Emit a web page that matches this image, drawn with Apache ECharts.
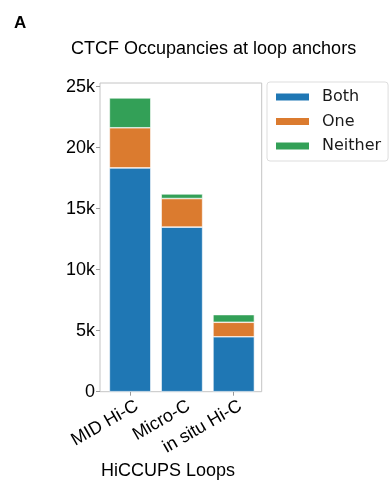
<!DOCTYPE html>
<html>
<head>
<meta charset="utf-8">
<script src="https://cdn.jsdelivr.net/npm/echarts@6/dist/echarts.min.js"></script>
<style>
  html, body { margin: 0; padding: 0; background: #fff; }
  #chart { width: 392px; height: 487px; }
</style>
</head>
<body>
<div id="chart"></div>
<script>
// Loop-anchor CTCF occupancy per loop caller dataset
const categories = ['MID Hi-C', 'Micro-C', 'in situ Hi-C'];
const bothValues = [18340, 13490, 4500];
const oneValues = [3290, 2340, 1190];
const neitherValues = [2450, 380, 630];
const yTickValues = [0, 5000, 10000, 15000, 20000, 25000];
const yTickLabels = ['0', '5k', '10k', '15k', '20k', '25k'];
const yMax = 25300;

const colors = { both: '#1f77b4', one: '#db7b2f', neither: '#33a057' };
const sansFont = 'Liberation Sans, Arial, Helvetica, sans-serif';

const plotTop = 83, plotHeight = 308.7;

const chart = echarts.init(document.getElementById('chart'), null, { renderer: 'canvas' });

function barSeries(name, values, color) {
  return {
    name: name,
    type: 'bar',
    stack: 'total',
    xAxisIndex: 1,
    yAxisIndex: 1,
    barWidth: '80%',
    data: values,
    itemStyle: { color: color, borderColor: '#ffffff', borderWidth: 0.6 },
    emphasis: { disabled: true }
  };
}

chart.setOption({
  animation: false,
  backgroundColor: '#ffffff',
  title: [
    {
      text: 'A', left: 9, top: 10,
      textStyle: { fontFamily: sansFont, fontSize: 17, fontWeight: 'bold', color: '#000' }
    },
    {
      text: 'CTCF Occupancies at loop anchors', left: 66, top: 35,
      textStyle: { fontFamily: sansFont, fontSize: 18, fontWeight: 'normal', color: '#000' }
    }
  ],
  legend: {
    orient: 'vertical',
    left: 267, top: 82,
    padding: [7, 7, 7, 7],
    itemWidth: 35, itemHeight: 9, itemGap: 8.5,
    icon: 'rect',
    backgroundColor: '#ffffff',
    borderColor: '#dddddd', borderWidth: 1, borderRadius: 3,
    textStyle: { fontFamily: 'DejaVu Sans, sans-serif', fontSize: 16, color: '#1a1a1a', padding: [0, 0, 0, 7] },
    data: ['Both', 'One', 'Neither'],
    selectedMode: false
  },
  grid: [
    // frame and value scale
    { left: 100, top: plotTop, width: 161.7, height: plotHeight, show: true, borderColor: '#c4c4c4', borderWidth: 1, backgroundColor: 'transparent' },
    // bar placement
    { left: 104.2, top: plotTop, width: 155.4, height: plotHeight, show: false },
    // rotated category labels, set slightly right of the ticks
    { left: 111, top: plotTop, width: 155.4, height: plotHeight, show: false }
  ],
  xAxis: [
    { type: 'value', gridIndex: 0, show: false, min: 0, max: 1 },
    {
      type: 'category', gridIndex: 1, data: categories,
      axisLine: { show: false },
      axisTick: { show: true, alignWithLabel: true, length: 4, lineStyle: { color: '#9a9a9a' } },
      axisLabel: { show: false }
    },
    {
      type: 'category', gridIndex: 2, data: categories,
      axisLine: { show: false },
      axisTick: { show: false },
      axisLabel: {
        rotate: 30, margin: 13,
        fontFamily: sansFont, fontSize: 18, color: '#000', interval: 0
      }
    }
  ],
  yAxis: [
    {
      type: 'value', gridIndex: 0, min: 0, max: yMax,
      axisLine: { show: false },
      splitLine: { show: false },
      axisTick: { show: true, length: 4, customValues: yTickValues, lineStyle: { color: '#9a9a9a' } },
      axisLabel: {
        margin: 5, fontFamily: sansFont, fontSize: 18, color: '#000',
        customValues: yTickValues,
        formatter: function (v) {
          const i = yTickValues.indexOf(v);
          return i >= 0 ? yTickLabels[i] : '';
        }
      }
    },
    { type: 'value', gridIndex: 1, min: 0, max: yMax, show: false, splitLine: { show: false } },
    { type: 'value', gridIndex: 2, min: 0, max: yMax, show: false, splitLine: { show: false } }
  ],
  graphic: [
    {
      type: 'text', x: 168, y: 471,
      style: { text: 'HiCCUPS Loops', align: 'center', verticalAlign: 'middle', font: '18px ' + sansFont, fill: '#000' }
    }
  ],
  series: [
    barSeries('Both', bothValues, colors.both),
    barSeries('One', oneValues, colors.one),
    barSeries('Neither', neitherValues, colors.neither)
  ]
});
</script>
</body>
</html>
